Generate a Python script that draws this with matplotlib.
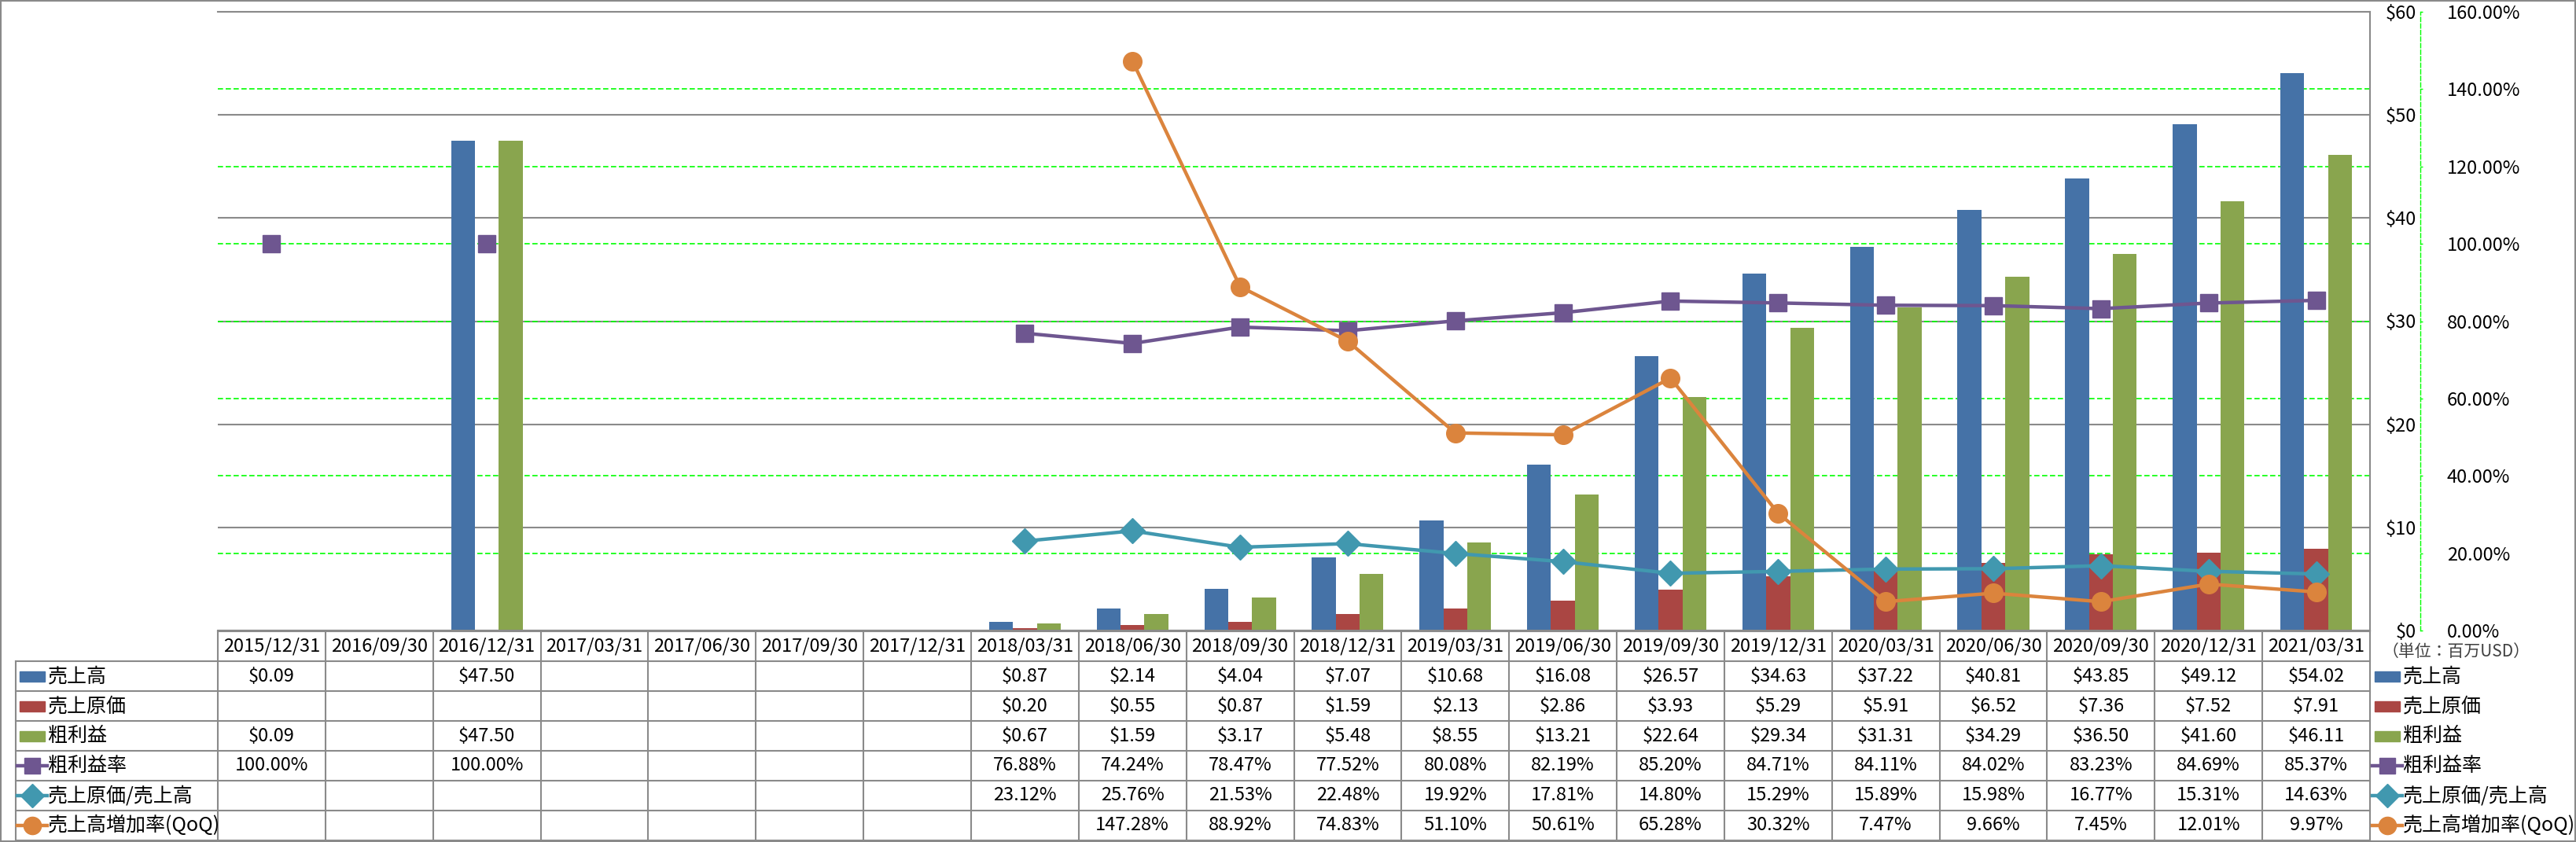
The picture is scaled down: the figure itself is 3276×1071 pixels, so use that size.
import numpy as np
import matplotlib
matplotlib.use('Agg')
import matplotlib.pyplot as plt
from matplotlib.patches import Rectangle
from matplotlib.lines import Line2D
from matplotlib.transforms import blended_transform_factory

plt.rcParams['font.family'] = ['Noto Sans CJK JP', 'DejaVu Sans']

nan = np.nan

# data (百万USD / %)
dates = ['2015/12/31', '2016/09/30', '2016/12/31', '2017/03/31', '2017/06/30',
         '2017/09/30', '2017/12/31', '2018/03/31', '2018/06/30', '2018/09/30',
         '2018/12/31', '2019/03/31', '2019/06/30', '2019/09/30', '2019/12/31',
         '2020/03/31', '2020/06/30', '2020/09/30', '2020/12/31', '2021/03/31']
sales = [0.09, nan, 47.50, nan, nan, nan, nan, 0.87, 2.14, 4.04, 7.07, 10.68,
         16.08, 26.57, 34.63, 37.22, 40.81, 43.85, 49.12, 54.02]
cogs = [nan, nan, nan, nan, nan, nan, nan, 0.20, 0.55, 0.87, 1.59, 2.13,
        2.86, 3.93, 5.29, 5.91, 6.52, 7.36, 7.52, 7.91]
gross = [0.09, nan, 47.50, nan, nan, nan, nan, 0.67, 1.59, 3.17, 5.48, 8.55,
         13.21, 22.64, 29.34, 31.31, 34.29, 36.50, 41.60, 46.11]
gross_margin = [100.00, nan, 100.00, nan, nan, nan, nan, 76.88, 74.24, 78.47,
                77.52, 80.08, 82.19, 85.20, 84.71, 84.11, 84.02, 83.23, 84.69, 85.37]
cogs_ratio = [nan, nan, nan, nan, nan, nan, nan, 23.12, 25.76, 21.53, 22.48,
              19.92, 17.81, 14.80, 15.29, 15.89, 15.98, 16.77, 15.31, 14.63]
qoq = [nan, nan, nan, nan, nan, nan, nan, nan, 147.28, 88.92, 74.83, 51.10,
       50.61, 65.28, 30.32, 7.47, 9.66, 7.45, 12.01, 9.97]

names = ['売上高', '売上原価', '粗利益', '粗利益率', '売上原価/売上高', '売上高増加率(QoQ)']
usd_ticks = list(range(0, 61, 10))
pct_ticks = list(range(0, 161, 20))

c_sales, c_cogs, c_gross = '#4572A7', '#AA4643', '#89A54E'
c_gm, c_cr, c_qoq = '#6E5690', '#4198AF', '#DB843D'
grid_grey = '#8A8A8A'
green = '#00FF00'
fs = 17

W, H = 3276, 1071
fig = plt.figure(figsize=(W / 100, H / 100), dpi=100)

# plot area in pixels
left, right, top, bottom = 277, 3014, 15, 802
ax = fig.add_axes([left / W, 1 - bottom / H, (right - left) / W, (bottom - top) / H])

x = np.arange(len(dates))
w = 0.222
ax.bar(x - w, sales, w, color=c_sales, zorder=2)
ax.bar(x, cogs, w, color=c_cogs, zorder=2)
ax.bar(x + w, gross, w, color=c_gross, zorder=2)
ax.set_xlim(-0.5, len(dates) - 0.5)
ax.set_ylim(0, 60)
ax.set_xticks([])
ax.set_axisbelow(True)
ax.grid(axis='y', color=grid_grey, lw=1.5)
ax.spines['left'].set_visible(False)
for s in ['right', 'top', 'bottom']:
    ax.spines[s].set_color(grid_grey)
    ax.spines[s].set_linewidth(1.5)

ax2 = ax.twinx()
ax2.set_ylim(0, 160)
ax2.set_yticks(pct_ticks)
ax2.set_yticklabels(['%.2f%%' % v for v in pct_ticks])
ax2.tick_params(axis='y', color=green, length=2.5, width=1, pad=22, labelsize=fs)
for s in ['left', 'top', 'bottom']:
    ax2.spines[s].set_visible(False)
ax2.spines['right'].set_position(('outward', 46))
ax2.spines['right'].set_color(green)
ax2.spines['right'].set_linestyle((0, (4, 2)))
ax2.spines['right'].set_linewidth(1)

# primary $ labels sit on the right too (twinx moves them left, so set after)
ax.yaxis.tick_right()
ax.set_yticks(usd_ticks)
ax.set_yticklabels(['$%d' % v for v in usd_ticks])
ax.tick_params(axis='y', left=False, labelleft=False, right=False,
               labelright=True, length=0, pad=42.5, labelsize=fs)
plt.setp(ax.get_yticklabels(), ha='right')

# secondary gridlines, kept under the bars
trans = blended_transform_factory(ax.transAxes, ax2.transData)
for p in pct_ticks[1:-1]:
    ax.plot([0, 1], [p, p], transform=trans, color=green, lw=1.2,
            ls=(0, (4, 2)), zorder=1)

ax2.plot(x, gross_margin, color=c_gm, lw=3.2, marker='s', ms=16.5, zorder=3)
ax2.plot(x, cogs_ratio, color=c_cr, lw=3.2, marker='D', ms=16.5, zorder=4)
ax2.plot(x, qoq, color=c_qoq, lw=3.2, marker='o', ms=17, zorder=5)

# data table drawn in pixel coords
tax = fig.add_axes([0, 0, 1, 1])
tax.set_xlim(0, W)
tax.set_ylim(H, 0)
tax.axis('off')

xl0, xl1 = ax.get_xlim()
def to_px(v):
    return left + (v - xl0) / (xl1 - xl0) * (right - left)

line_kw = dict(color=grid_grey, lw=1.5)
head_top, head_bot, row_h = 803, 841, 38
n_rows = len(names)
table_bot = head_bot + n_rows * row_h
leg_left = 20

tax.plot([left, right], [head_top, head_top], **line_kw)
for r in range(n_rows + 1):
    yy = head_bot + r * row_h
    tax.plot([leg_left, right], [yy, yy], **line_kw)
for k in range(len(dates) + 1):
    xx = to_px(k - 0.5)
    tax.plot([xx, xx], [head_top, table_bot], **line_kw)
tax.plot([leg_left, leg_left], [head_bot, table_bot], **line_kw)

for k, d in enumerate(dates):
    tax.text(to_px(k), (head_top + head_bot) / 2, d, ha='center', va='center', fontsize=fs)

rows = [
    ['' if np.isnan(v) else '$%.2f' % v for v in sales],
    ['' if np.isnan(v) else '$%.2f' % v for v in cogs],
    ['' if np.isnan(v) else '$%.2f' % v for v in gross],
    ['' if np.isnan(v) else '%.2f%%' % v for v in gross_margin],
    ['' if np.isnan(v) else '%.2f%%' % v for v in cogs_ratio],
    ['' if np.isnan(v) else '%.2f%%' % v for v in qoq],
]
for r, vals in enumerate(rows):
    yc = head_bot + (r + 0.5) * row_h
    for k, s in enumerate(vals):
        if s:
            tax.text(to_px(k), yc, s, ha='center', va='center', fontsize=fs)

keys = [('bar', c_sales, None), ('bar', c_cogs, None), ('bar', c_gross, None),
        ('line', c_gm, 's'), ('line', c_cr, 'D'), ('line', c_qoq, 'o')]

def draw_key(x0, x1, yc, key, label):
    kind, col, mk = key
    if kind == 'bar':
        tax.add_patch(Rectangle((x0, yc - 6.5), x1 - x0, 13, color=col))
    else:
        tax.add_line(Line2D([x0 - 3, x1 + 3], [yc, yc], color=col, lw=3.2))
        tax.add_line(Line2D([(x0 + x1) / 2], [yc], color=col, marker=mk,
                            ms=15 if mk != 'o' else 16))
    tax.text(x1 + 4, yc, label, ha='left', va='center', fontsize=18)

for r, (key, nm) in enumerate(zip(keys, names)):
    yc = head_bot + (r + 0.5) * row_h
    draw_key(25, 57, yc, key, nm)
    draw_key(3020, 3052, yc, key, nm)

tax.text(3030, 829, '（単位：百万USD）', ha='left', va='center', fontsize=15, color='#404040')

tax.add_patch(Rectangle((1, 1), W - 2, H - 2, fill=False, ec=grid_grey, lw=1.5))

fig.savefig('out.png', dpi=100)
